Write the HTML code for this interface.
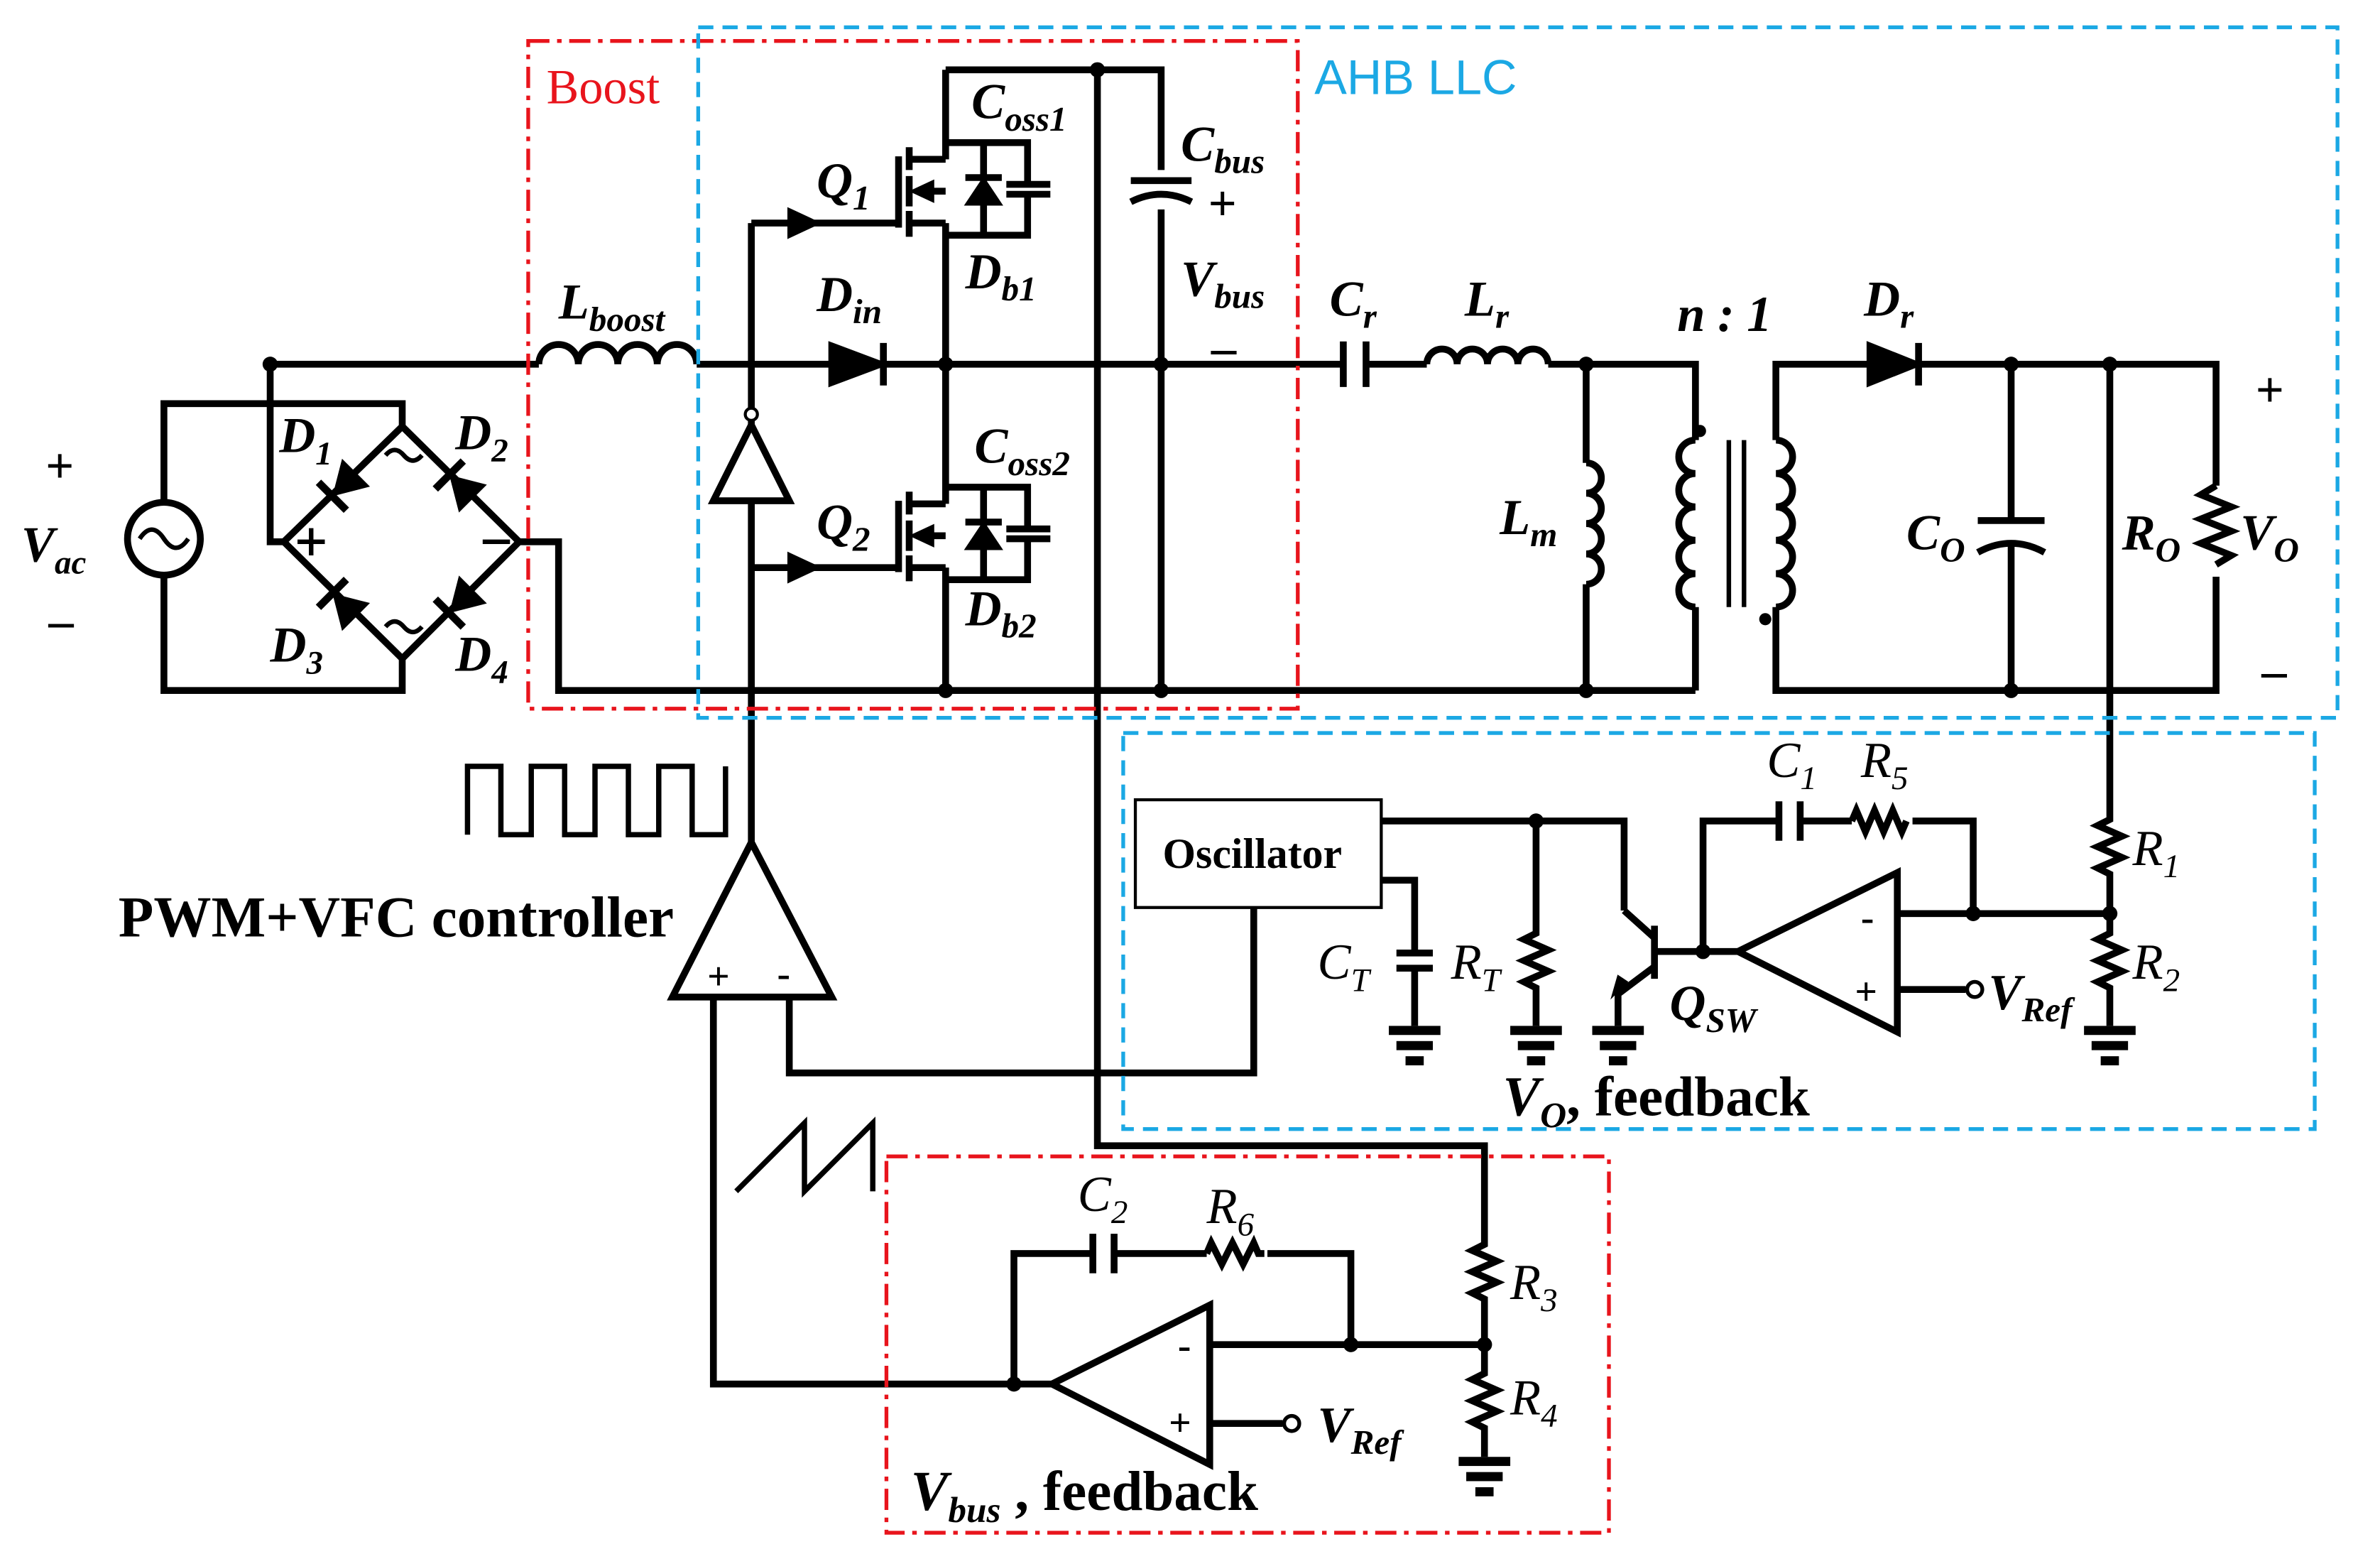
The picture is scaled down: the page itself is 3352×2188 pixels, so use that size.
<!DOCTYPE html>
<html><head><meta charset="utf-8"><style>
html,body{margin:0;padding:0;background:#fff}
svg{display:block}
text{font-family:"Liberation Serif",serif;font-weight:bold;font-style:italic;fill:#000}
.n{font-style:normal}
</style></head><body>
<svg width="3352" height="2188" viewBox="0 0 1568 1024" preserveAspectRatio="none" xmlns="http://www.w3.org/2000/svg">
<defs>
<g id="gnd"><rect x="-17" y="0" width="34" height="6"/><rect x="-12" y="10" width="24" height="6"/><rect x="-6" y="20" width="12" height="6"/></g>
<g id="dio"><path d="M-22 -13 L-22 13 L0 0 Z" fill="#000"/><path d="M0 -13 V13" stroke="#000" stroke-width="5"/></g>
</defs>
<g fill="none" stroke="#000" stroke-width="4.5" stroke-linejoin="miter">
<circle cx="108" cy="355" r="24"/>
<path d="M92 355 q8 -12 16 0 q8 12 16 0" stroke-width="3"/>
<path d="M108 331 V266 H265 V281 M108 379 V455 H265 V434"/>
<path d="M265 281 L187 357 L265 434 L342 357 Z"/>
<path d="M178 240 V357 H187 M342 357 H368 V455 H1117"/>
<path d="M178 240 H355"/>
<path d="M355 240 a13 13 0 0 1 26 0 a13 13 0 0 1 26 0 a13 13 0 0 1 26 0 a13 13 0 0 1 26 0"/>
<path d="M459 240 H885 M900 240 H940 M1020 240 H1117 V290 M1117 400 V455"/>
<path d="M548 228 L580 240 L548 252 Z" fill="#000"/><path d="M582 226 V254"/>
<path d="M623 46 V105 M623 147 V332 M623 374 V455 M623 46 H765 V112 M765 138 V455"/>
<path d="M745 119 H785 M745 133 q20 -10 40 0"/>
<path d="M495 147 H592 M592 103 V150 M599 97 V112 M599 116 V136 M599 139 V156 M599 105 H623 M599 147 H623 M623 126 H612 M623 94 H677 V121 M677 128 V155 H623 M648 94 V155 M636 117 H660 M663 121.5 H692 M663 128 H692"/>
<path d="M600 126 L615 119 L615 133 Z M636 135 L660 135 L648 117 Z" fill="#000" stroke-width="1"/>
<path d="M495 374 H592 M592 330 V377 M599 324 V339 M599 343 V363 M599 366 V383 M599 332 H623 M599 374 H623 M623 353 H612 M623 321 H677 V348 M677 355 V382 H623 M648 321 V382 M636 344 H660 M663 348.5 H692 M663 355 H692"/>
<path d="M600 353 L615 346 L615 360 Z M636 362 L660 362 L648 344 Z" fill="#000" stroke-width="1"/>
<path d="M495 147 V280 M495 330 V555"/>
<path d="M521 140 L536 147 L521 154 Z M521 367 L536 374 L521 381 Z" fill="#000"/>
<path d="M495 280 L470 330 H520 Z"/>
<path d="M885 225 V255 M900 225 V255"/>
<path d="M940 240 a10 10 0 0 1 20 0 a10 10 0 0 1 20 0 a10 10 0 0 1 20 0 a10 10 0 0 1 20 0"/>
<path d="M1045 240 V305 M1045 385 V455"/>
<path d="M1045 305 a10 10 0 0 1 0 20 a10 10 0 0 1 0 20 a10 10 0 0 1 0 20 a10 10 0 0 1 0 20"/>
<path d="M1117 290 a10 10 0 0 0 0 22 a10 10 0 0 0 0 22 a10 10 0 0 0 0 22 a10 10 0 0 0 0 22 a10 10 0 0 0 0 22"/>
<path d="M1170 290 a10 10 0 0 1 0 22 a10 10 0 0 1 0 22 a10 10 0 0 1 0 22 a10 10 0 0 1 0 22 a10 10 0 0 1 0 22"/>
<path d="M1139 290 V400 M1149 290 V400" stroke-width="3"/>
<path d="M1170 290 V240 H1460 V320 M1170 400 V455 H1460 V380"/>
<path d="M1232 228 L1262 240 L1232 252 Z" fill="#000"/><path d="M1264 226 V254"/>
<path d="M1325 240 V343 M1325 360 V455 M1303 343 H1347 M1303 364 q22 -12 44 0"/>
<path d="M1460 320 l-10 6 l20 8 l-20 8 l20 8 l-20 8 l20 8 l-10 6"/>
<path d="M1390 240 V540 l-8 4 l16 7 l-16 7 l16 7 l-16 7 l8 4 V615 l-8 4 l16 7 l-16 7 l16 7 l-16 7 l8 4 V676"/>
<rect x="748" y="527" width="162" height="71" stroke-width="2"/>
<path d="M910 541 H1070 V600 M910 580 H932 V628 M920 628 H944 M920 638 H944 M932 638 V676"/>
<path d="M1012 541 V615 l-8 4 l16 7 l-16 7 l16 7 l-16 7 l8 4 V676"/>
<path d="M1090 610 V645 M1090 618 L1070 600 M1090 637 L1066 655 V676 M1090 627 H1145"/>
<path d="M1072 647 l-10 10 l4 -14 z" fill="#000" stroke-width="1"/>
<path d="M1145 627 L1250 575 V680 Z"/>
<path d="M1122 627 V541 H1172 M1186 541 H1220 M1260 541 H1300 V602 H1250 M1300 602 H1390 M1250 652 H1295"/>
<path d="M1172 528 V554 M1186 528 V554"/>
<path d="M1220 541 l3 -7 l6 14 l6 -14 l6 14 l6 -14 l6 14 l3 -7"/>
<circle cx="1301" cy="652" r="5" stroke-width="2.5"/>
<path d="M495 555 L443 657 H548 Z"/>
<path d="M826 598 V707 H520 V657 M470 657 V912 H693"/>
<path d="M723 46 V755 H978 V820 l-8 4 l16 7 l-16 7 l16 7 l-16 7 l8 4 V905 l-8 4 l16 7 l-16 7 l16 7 l-16 7 l8 4 V960"/>
<path d="M693 912 L797 860 V965 Z"/>
<path d="M668 912 V826 H720 M734 826 H795 M835 826 H890 V886 H797 M890 886 H978 M797 938 H845"/>
<path d="M720 813 V839 M734 813 V839"/>
<path d="M795 826 l3 -7 l7 14 l7 -14 l7 14 l7 -14 l3 7 h4"/>
<circle cx="851" cy="938" r="5" stroke-width="2.5"/>
<path d="M308 550 V505 H330 V550 H350 V505 H372 V550 H392 V505 H414 V550 H434 V505 H456 V550 H478 V505" stroke-width="3.5"/>
<path d="M485 785 L530 740 V785 L575 740 V785" stroke-width="3.5"/>
</g>
<g fill="#000">
<use href="#gnd" x="932" y="676"/><use href="#gnd" x="1012" y="676"/><use href="#gnd" x="1066" y="676"/><use href="#gnd" x="1390" y="676"/><use href="#gnd" x="978" y="960"/>
</g>
<use href="#dio" transform="translate(219,327) rotate(135)"/>
<use href="#dio" transform="translate(296,313) rotate(-135)"/>
<use href="#dio" transform="translate(219,391) rotate(-135)"/>
<use href="#dio" transform="translate(296,404) rotate(135)"/>
<g fill="none" stroke="#000" stroke-width="3">
<path d="M254 300 q6 -7 12 0 q6 7 12 0 M254 413 q6 -7 12 0 q6 7 12 0"/>
<path d="M196 357 H214 M205 348 V366 M318 357 H336"/>
</g>
<g fill="#000">
<circle cx="178" cy="240" r="5"/><circle cx="623" cy="240" r="5"/><circle cx="765" cy="240" r="5"/><circle cx="723" cy="46" r="5"/>
<circle cx="623" cy="455" r="5"/><circle cx="765" cy="455" r="5"/><circle cx="1045" cy="240" r="5"/><circle cx="1045" cy="455" r="5"/>
<circle cx="1325" cy="240" r="5"/><circle cx="1390" cy="240" r="5"/><circle cx="1325" cy="455" r="5"/>
<circle cx="1012" cy="541" r="5"/><circle cx="1122" cy="627" r="5"/><circle cx="1300" cy="602" r="5"/><circle cx="1390" cy="602" r="5"/>
<circle cx="668" cy="912" r="5"/><circle cx="890" cy="886" r="5"/><circle cx="978" cy="886" r="5"/>
<circle cx="1120" cy="284" r="4"/><circle cx="1163" cy="408" r="4"/>
</g>
<circle cx="495" cy="273" r="4" fill="#fff" stroke="#000" stroke-width="2"/>
<g fill="none" stroke-width="2.5">
<rect x="348" y="27" width="507" height="440" stroke="#e8141c" stroke-dasharray="14 5 3 5"/>
<rect x="584" y="762" width="476" height="248" stroke="#e8141c" stroke-dasharray="14 5 3 5"/>
<rect x="460" y="18" width="1080" height="455" stroke="#1ba8e4" stroke-dasharray="10 6"/>
<rect x="740" y="483" width="785" height="261" stroke="#1ba8e4" stroke-dasharray="10 6"/>
</g>
<text x="360" y="68" style="font-weight:normal;font-style:normal;fill:#e8141c" font-size="32">Boost</text>
<text x="866" y="62" style="font-family:'Liberation Sans',sans-serif;font-weight:normal;font-style:normal;fill:#1ba8e4" font-size="32">AHB LLC</text>
<g font-size="33">
<text x="30" y="318" class="n">+</text>
<text x="14" y="370">V<tspan font-size="22" dy="8">ac</tspan></text>
<text x="32" y="420" class="n">–</text>
<text x="184" y="298">D<tspan font-size="22" dy="8">1</tspan></text>
<text x="300" y="296">D<tspan font-size="22" dy="8">2</tspan></text>
<text x="178" y="436">D<tspan font-size="22" dy="8">3</tspan></text>
<text x="300" y="442">D<tspan font-size="22" dy="8">4</tspan></text>
<text x="368" y="210">L<tspan font-size="23" dy="8">boost</tspan></text>
<text x="538" y="205">D<tspan font-size="23" dy="8">in</tspan></text>
<text x="538" y="130">Q<tspan font-size="23" dy="8">1</tspan></text>
<text x="538" y="355">Q<tspan font-size="23" dy="8">2</tspan></text>
<text x="640" y="78">C<tspan font-size="23" dy="8">oss1</tspan></text>
<text x="642" y="305">C<tspan font-size="23" dy="8">oss2</tspan></text>
<text x="636" y="190">D<tspan font-size="23" dy="8">b1</tspan></text>
<text x="636" y="412">D<tspan font-size="23" dy="8">b2</tspan></text>
<text x="778" y="106">C<tspan font-size="23" dy="8">bus</tspan></text>
<text x="796" y="145" class="n">+</text>
<text x="778" y="195">V<tspan font-size="23" dy="8">bus</tspan></text>
<text x="798" y="240" class="n">–</text>
<text x="876" y="208">C<tspan font-size="23" dy="8">r</tspan></text>
<text x="965" y="208">L<tspan font-size="23" dy="8">r</tspan></text>
<text x="1105" y="218">n : 1</text>
<text x="1228" y="208">D<tspan font-size="23" dy="8">r</tspan></text>
<text x="988" y="352">L<tspan font-size="23" dy="8">m</tspan></text>
<text x="1256" y="362">C<tspan font-size="23" dy="8">O</tspan></text>
<text x="1398" y="362">R<tspan font-size="23" dy="8">O</tspan></text>
<text x="1476" y="362">V<tspan font-size="23" dy="8">O</tspan></text>
<text x="1486" y="268" class="n">+</text>
<text x="1490" y="453" class="n">–</text>
<text x="78" y="617" class="n" font-size="38">PWM+VFC controller</text>
<text x="466" y="652" class="n" font-size="26">+</text>
<text x="512" y="650" class="n" font-size="26">-</text>
<text x="1226" y="613" class="n" font-size="26">-</text>
<text x="1222" y="662" class="n" font-size="26">+</text>
<text x="776" y="895" class="n" font-size="26">-</text>
<text x="770" y="946" class="n" font-size="26">+</text>
<text x="1164" y="512" style="font-weight:normal">C<tspan font-size="22" dy="8">1</tspan></text>
<text x="1226" y="512" style="font-weight:normal">R<tspan font-size="22" dy="8">5</tspan></text>
<text x="1405" y="570" style="font-weight:normal">R<tspan font-size="22" dy="8">1</tspan></text>
<text x="1405" y="645" style="font-weight:normal">R<tspan font-size="22" dy="8">2</tspan></text>
<text x="868" y="645" style="font-weight:normal">C<tspan font-size="22" dy="8">T</tspan></text>
<text x="956" y="645" style="font-weight:normal">R<tspan font-size="22" dy="8">T</tspan></text>
<text x="1100" y="672">Q<tspan font-size="23" dy="8">SW</tspan></text>
<text x="1310" y="665">V<tspan font-size="23" dy="8">Ref</tspan></text>
<text x="990" y="735" font-size="37">V<tspan font-size="24" dy="8">O</tspan><tspan dy="-8" class="n">, feedback</tspan></text>
<text x="710" y="798" style="font-weight:normal">C<tspan font-size="22" dy="8">2</tspan></text>
<text x="795" y="806" style="font-weight:normal">R<tspan font-size="22" dy="8">6</tspan></text>
<text x="995" y="856" style="font-weight:normal">R<tspan font-size="22" dy="8">3</tspan></text>
<text x="995" y="932" style="font-weight:normal">R<tspan font-size="22" dy="8">4</tspan></text>
<text x="868" y="950">V<tspan font-size="23" dy="8">Ref</tspan></text>
<text x="600" y="995" font-size="37">V<tspan font-size="24" dy="8">bus</tspan><tspan dy="-8" class="n"> , feedback</tspan></text>
</g>
<text x="766" y="572" font-size="28" class="n">Oscillator</text>
</svg>
</body></html>
